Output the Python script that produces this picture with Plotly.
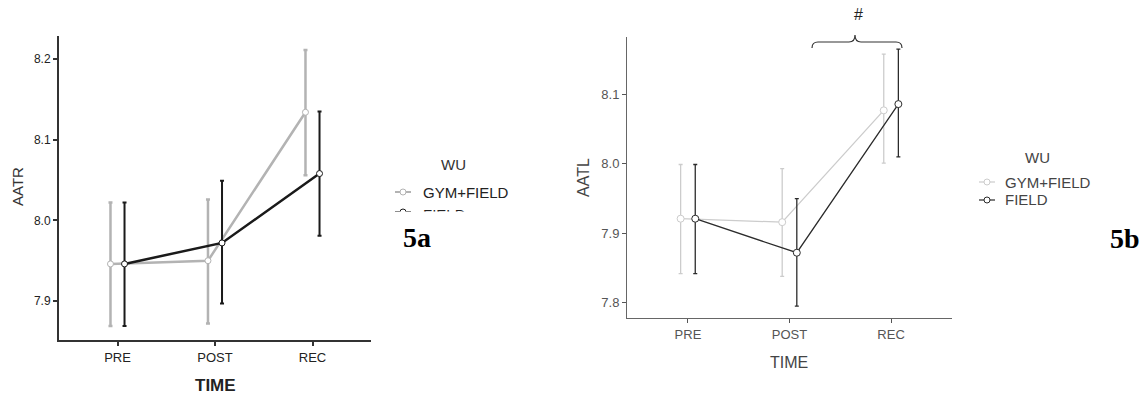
import plotly.graph_objects as go

# ---------------- data ----------------
time_labels = ["PRE", "POST", "REC"]
time_pos = [1, 2, 3]

# Panel 5a : AATR
aatr_gym_mean = [7.946, 7.950, 8.134]
aatr_gym_upper = [8.022, 8.026, 8.211]
aatr_gym_lower = [7.869, 7.872, 8.056]
aatr_field_mean = [7.946, 7.972, 8.058]
aatr_field_upper = [8.022, 8.049, 8.135]
aatr_field_lower = [7.869, 7.897, 7.981]
aatr_ticks = [7.9, 8.0, 8.1, 8.2]
aatr_ticktext = ["7.9", "8.0", "8.1", "8.2"]

# Panel 5b : AATL
aatl_gym_mean = [7.921, 7.916, 8.077]
aatl_gym_upper = [7.999, 7.993, 8.158]
aatl_gym_lower = [7.842, 7.838, 8.001]
aatl_field_mean = [7.921, 7.872, 8.086]
aatl_field_upper = [7.999, 7.950, 8.165]
aatl_field_lower = [7.842, 7.795, 8.010]
aatl_ticks = [7.8, 7.9, 8.0, 8.1]
aatl_ticktext = ["7.8", "7.9", "8.0", "8.1"]

group_names = ["GYM+FIELD", "FIELD"]
legend_title = "WU"

# ---------------- layout helpers ----------------
W, H = 1146, 398
FONT = "Liberation Sans, Arial, sans-serif"
SERIF = "Liberation Serif, Times New Roman, serif"
DODGE = 0.072


def px(x):
    return x / W


def py(y):
    return 1 - y / H


def dodge(vals, d):
    return [v + d for v in vals]


def err(mean, up, lo):
    return ([u - m for u, m in zip(up, mean)], [m - l for m, l in zip(mean, lo)])


fig = go.Figure()


def add_series(xa, ya, mean, up, lo, d, color, lw, ew, cw, msize):
    e_up, e_lo = err(mean, up, lo)
    fig.add_trace(go.Scatter(
        x=dodge(time_pos, d), y=mean, xaxis=xa, yaxis=ya,
        mode="lines+markers", showlegend=False,
        line=dict(color=color, width=lw),
        marker=dict(symbol="circle", size=msize, color="white",
                    line=dict(color=color, width=1)),
        error_y=dict(type="data", symmetric=False, array=e_up, arrayminus=e_lo,
                     color=color, thickness=ew, width=cw),
    ))


# 5a
add_series("x", "y", aatr_gym_mean, aatr_gym_upper, aatr_gym_lower, -DODGE,
           "#b3b3b3", 2.5, 2.5, 2, 6)
add_series("x", "y", aatr_field_mean, aatr_field_upper, aatr_field_lower, DODGE,
           "#1a1a1a", 2.5, 2, 2, 6)
# 5b
add_series("x2", "y2", aatl_gym_mean, aatl_gym_upper, aatl_gym_lower, -DODGE,
           "#cccccc", 1.3, 1.3, 2, 7)
add_series("x2", "y2", aatl_field_mean, aatl_field_upper, aatl_field_lower, DODGE,
           "#2b2b2b", 1.3, 1.3, 2, 7)

common_axis = dict(showgrid=False, zeroline=False, showline=True, ticks="outside",
                   fixedrange=True)

fig.update_layout(
    width=W, height=H,
    margin=dict(l=0, r=0, t=0, b=0),
    paper_bgcolor="white", plot_bgcolor="white",
    showlegend=False,
    font=dict(family=FONT),
    xaxis=dict(domain=[px(59), px(371)], anchor="y", range=[0.4, 3.6],
               tickvals=time_pos, ticktext=time_labels,
               linecolor="#333333", linewidth=2, ticklen=4, tickwidth=1.5,
               tickcolor="#333333",
               tickfont=dict(size=13, color="#222222"), **common_axis),
    yaxis=dict(domain=[py(340), py(36)], anchor="x", range=[7.8517, 8.2285],
               tickvals=aatr_ticks, ticktext=aatr_ticktext,
               linecolor="#333333", linewidth=2, ticklen=4, tickwidth=1.5,
               tickcolor="#333333",
               tickfont=dict(size=12, color="#222222"), **common_axis),
    xaxis2=dict(domain=[px(627), px(952)], anchor="y2", range=[0.4, 3.6],
                tickvals=time_pos, ticktext=time_labels,
                linecolor="#666666", linewidth=1, ticklen=4, tickwidth=1,
                tickcolor="#555555",
                tickfont=dict(size=13, color="#555555"), **common_axis),
    yaxis2=dict(domain=[py(318.3), py(36.7)], anchor="x2", range=[7.7776, 8.183],
                tickvals=aatl_ticks, ticktext=aatl_ticktext,
                linecolor="#666666", linewidth=1, ticklen=4, tickwidth=1,
                tickcolor="#555555",
                tickfont=dict(size=13, color="#555555"), **common_axis),
)

annotations = []
shapes = []


def text(x, y, s, size, color, family=FONT, angle=0, bold=False, **kw):
    if bold:
        s = "<b>" + s + "</b>"
    d = dict(x=px(x), y=py(y), xref="paper", yref="paper", text=s, showarrow=False,
             font=dict(size=size, color=color, family=family), textangle=angle,
             xanchor=kw.pop("xanchor", "center"), yanchor=kw.pop("yanchor", "middle"))
    d.update(kw)
    annotations.append(d)


# axis titles
text(17, 187, "AATR", 15, "#333333", angle=-90)
text(215, 385, "TIME", 17, "#222222", bold=True)
text(583, 178, "AATL", 16, "#444444", angle=-90)
text(789, 362, "TIME", 16, "#444444")


def legend_glyph(cx, cy, color, r=3, half=8, lw=1.2):
    shapes.append(dict(type="line", xref="paper", yref="paper",
                       x0=px(cx - half), x1=px(cx + half), y0=py(cy), y1=py(cy),
                       line=dict(color=color, width=lw)))
    shapes.append(dict(type="circle", xref="paper", yref="paper",
                       xsizemode="pixel", ysizemode="pixel",
                       xanchor=px(cx), yanchor=py(cy),
                       x0=-r, x1=r, y0=-r, y1=r,
                       fillcolor="white", line=dict(color=color, width=1)))


# legend 5a
text(453, 165, legend_title, 15, "#333333")
legend_glyph(403, 192, "#b3b3b3", lw=2)
text(421, 192, group_names[0], 15, "#222222", xanchor="left")
legend_glyph(403, 212, "#1a1a1a", lw=2)
text(421, 214, group_names[1], 15, "#222222", xanchor="left")
# partial crop of the second legend row in the source figure
annotations.append(dict(x=px(392), y=py(211), xref="paper", yref="paper", text=" ",
                        showarrow=False, xanchor="left", yanchor="top",
                        width=140, height=12, bgcolor="white",
                        font=dict(size=8)))
text(417, 237, "5a", 28, "#000000", family=SERIF, bold=True)

# legend 5b
text(1037, 157, legend_title, 15, "#444444")
legend_glyph(987, 182, "#cccccc")
text(1003, 182, group_names[0], 15, "#444444", xanchor="left")
legend_glyph(987, 200, "#2b2b2b")
text(1003, 200, group_names[1], 15, "#444444", xanchor="left")
text(1125, 238, "5b", 28, "#000000", family=SERIF, bold=True)

# brace with "#"
x0, xm, x1 = px(812), px(855), px(902)
ye, yf, yt = py(48), py(42), py(35)
dx = px(6)
path = (f"M {x0},{ye} Q {x0},{yf} {x0+dx},{yf} L {xm-dx},{yf} "
        f"Q {xm},{yf} {xm},{yt} Q {xm},{yf} {xm+dx},{yf} "
        f"L {x1-dx},{yf} Q {x1},{yf} {x1},{ye}")
shapes.append(dict(type="path", xref="paper", yref="paper", path=path,
                   line=dict(color="#333333", width=1.2)))
text(858, 15, "#", 16, "#222222")

fig.update_layout(annotations=annotations, shapes=shapes)
fig.write_html("out.html")
